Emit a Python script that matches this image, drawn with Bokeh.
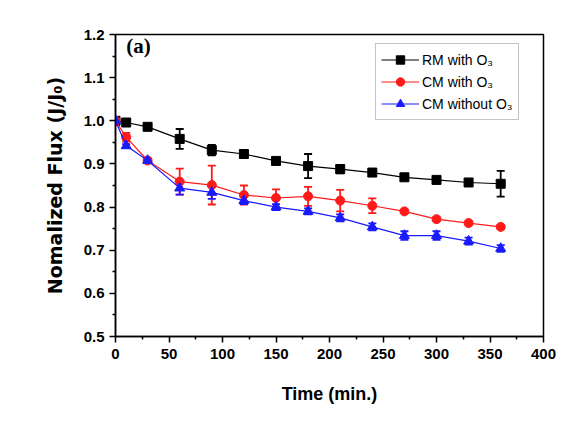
from bokeh.plotting import figure
from bokeh.models import (ColumnDataSource, Whisker, Legend, LegendItem, Range1d,
                          FixedTicker, Label, CustomJSTickFormatter)
from bokeh.embed import file_html
from bokeh.resources import INLINE

time_min = [0, 10, 30, 60, 90, 120, 150, 180, 210, 240, 270, 300, 330, 360]
rm_with_o3 = [1.0, 0.996, 0.986, 0.958, 0.932, 0.923, 0.907, 0.895, 0.888, 0.880, 0.869, 0.863, 0.857, 0.854]
rm_with_o3_err = [0, 0.004, 0.004, 0.023, 0.012, 0.005, 0.004, 0.028, 0.010, 0.004, 0.004, 0.004, 0.004, 0.030]
cm_with_o3 = [1.0, 0.962, 0.908, 0.859, 0.851, 0.828, 0.821, 0.825, 0.815, 0.803, 0.790, 0.772, 0.763, 0.754]
cm_with_o3_err = [0, 0.010, 0.004, 0.030, 0.045, 0.022, 0.020, 0.022, 0.025, 0.017, 0.004, 0.004, 0.004, 0.004]
cm_without_o3 = [1.0, 0.942, 0.908, 0.844, 0.834, 0.815, 0.800, 0.790, 0.775, 0.754, 0.734, 0.734, 0.721, 0.704]
cm_without_o3_err = [0, 0.004, 0.004, 0.015, 0.015, 0.008, 0.007, 0.007, 0.008, 0.008, 0.010, 0.010, 0.008, 0.008]

series_names = ["RM with O\u2083", "CM with O\u2083", "CM without O\u2083"]
colors = ["black", "#ff1a1a", "#1a1aff"]
markers = ["square", "circle", "triangle"]

x_ticks = [0, 50, 100, 150, 200, 250, 300, 350, 400]
y_ticks = [0.5, 0.6, 0.7, 0.8, 0.9, 1.0, 1.1, 1.2]

p = figure(width=578, height=421, output_backend="svg", toolbar_location=None,
           x_range=Range1d(0, 400), y_range=Range1d(0.5, 1.2),
           min_border_left=115, min_border_right=35, min_border_top=34, min_border_bottom=85)
p.grid.visible = False
p.outline_line_color = "black"
p.outline_line_width = 1.5
p.background_fill_color = "white"
p.border_fill_color = "white"

for ax in (p.xaxis[0], p.yaxis[0]):
    ax.axis_line_width = 1.5
    ax.major_tick_line_width = 1.5
    ax.minor_tick_line_width = 1.5
    ax.major_tick_out = 6
    ax.major_tick_in = 0
    ax.minor_tick_out = 3
    ax.minor_tick_in = 0
    ax.major_label_text_font = "Liberation Sans"
    ax.major_label_text_font_style = "bold"
    ax.major_label_text_font_size = "15px"
    ax.major_label_text_color = "black"
    ax.axis_label_text_font_style = "bold"
    ax.axis_label_text_color = "black"

p.xaxis.axis_label_text_font = "Liberation Sans"
p.xaxis.axis_label_text_font_size = "18px"
p.yaxis.axis_label_text_font = "DejaVu Sans"
p.yaxis.axis_label_text_font_size = "19px"

p.xaxis.ticker = FixedTicker(ticks=x_ticks, minor_ticks=[25, 75, 125, 175, 225, 275, 325, 375])
p.yaxis.ticker = FixedTicker(ticks=y_ticks, minor_ticks=[0.55, 0.65, 0.75, 0.85, 0.95, 1.05, 1.15])
p.yaxis.formatter = CustomJSTickFormatter(code="return tick.toFixed(1);")
p.xaxis.axis_label = "Time (min.)"
p.yaxis.axis_label = "Nomalized Flux (J/J\u2080)"
p.xaxis.major_label_standoff = 6
p.xaxis.axis_label_standoff = 22
p.yaxis.major_label_standoff = 5
p.yaxis.axis_label_standoff = 15

items = []
for name, ys, errs, c, m in zip(series_names,
                                [rm_with_o3, cm_with_o3, cm_without_o3],
                                [rm_with_o3_err, cm_with_o3_err, cm_without_o3_err],
                                colors, markers):
    src = ColumnDataSource(dict(x=time_min, y=ys,
                                lo=[a - b for a, b in zip(ys, errs)],
                                hi=[a + b for a, b in zip(ys, errs)]))
    w = Whisker(source=src, base="x", lower="lo", upper="hi", line_color=c, line_width=1.8)
    w.upper_head.line_color = c
    w.lower_head.line_color = c
    w.upper_head.line_width = 1.8
    w.lower_head.line_width = 1.8
    w.upper_head.size = 8
    w.lower_head.size = 8
    p.add_layout(w)
    ln = p.line("x", "y", source=src, line_color=c, line_width=1.2)
    sc = p.scatter("x", "y", source=src, marker=m, size=9 if m != "triangle" else 10,
                   fill_color=c, line_color=c)
    items.append(LegendItem(label=name, renderers=[ln, sc]))

legend = Legend(items=items, location=(260, 216))
legend.label_text_font = "Liberation Sans"
legend.label_text_font_size = "14px"
legend.label_text_color = "black"
legend.border_line_color = "#888888"
legend.border_line_width = 1
legend.glyph_width = 38
legend.glyph_height = 21
legend.label_standoff = 3
legend.spacing = 1
legend.padding = 5
legend.margin = 0
legend.label_height = 21
p.add_layout(legend)

p.add_layout(Label(x=10, y=1.145, text="(a)", text_font="Liberation Serif",
                   text_font_style="bold", text_font_size="21px", text_color="black"))

open("out.html", "w").write(file_html(p, INLINE))
